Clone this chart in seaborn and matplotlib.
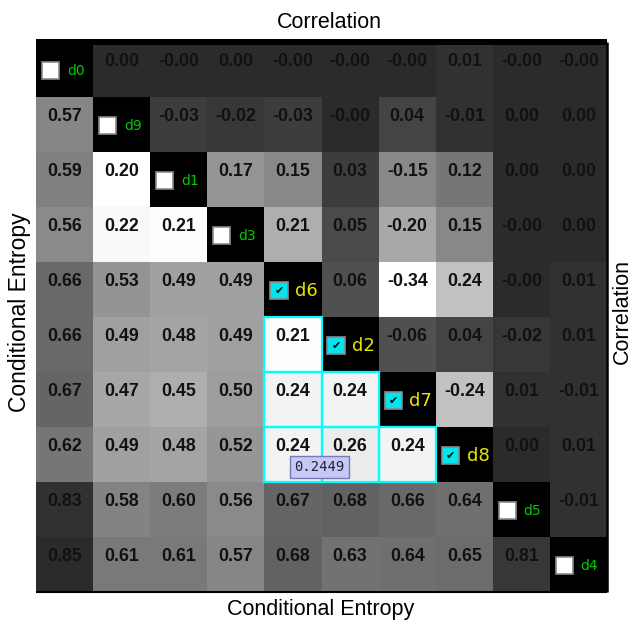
import numpy as np
import pandas as pd
import matplotlib
matplotlib.use("Agg")
import matplotlib.pyplot as plt
from matplotlib.colors import LinearSegmentedColormap
from matplotlib.patches import Rectangle
import seaborn as sns

# dimension order as shown on the diagonal
dims = ["d0", "d9", "d1", "d3", "d6", "d2", "d7", "d8", "d5", "d4"]
selected = ["d6", "d2", "d7", "d8"]

# upper triangle: correlation, row by row (columns to the right of the diagonal)
corr_rows = [
    [0.00, -0.00, 0.00, -0.00, -0.00, -0.00, 0.01, -0.00, -0.00],
    [-0.03, -0.02, -0.03, -0.00, 0.04, -0.01, 0.00, 0.00],
    [0.17, 0.15, 0.03, -0.15, 0.12, 0.00, 0.00],
    [0.21, 0.05, -0.20, 0.15, -0.00, 0.00],
    [0.06, -0.34, 0.24, -0.00, 0.01],
    [-0.06, 0.04, -0.02, 0.01],
    [-0.24, 0.01, -0.01],
    [0.00, 0.01],
    [-0.01],
]

# lower triangle: conditional entropy, row by row (columns left of the diagonal)
entropy_rows = [
    [0.57],
    [0.59, 0.20],
    [0.56, 0.22, 0.21],
    [0.66, 0.53, 0.49, 0.49],
    [0.66, 0.49, 0.48, 0.49, 0.21],
    [0.67, 0.47, 0.45, 0.50, 0.24, 0.24],
    [0.62, 0.49, 0.48, 0.52, 0.24, 0.26, 0.24],
    [0.83, 0.58, 0.60, 0.56, 0.67, 0.68, 0.66, 0.64],
    [0.85, 0.61, 0.61, 0.57, 0.68, 0.63, 0.64, 0.65, 0.81],
]

hover_value = 0.2449
hover_cell = ("d8", "d6")

n = len(dims)
corr = np.full((n, n), np.nan)
ent = np.full((n, n), np.nan)
for i, row in enumerate(corr_rows):
    corr[i, i + 1:] = row
for i, row in enumerate(entropy_rows):
    ent[i + 1, :i + 1] = row

corr_df = pd.DataFrame(corr, index=dims, columns=dims)
ent_df = pd.DataFrame(ent, index=dims, columns=dims)

corr_lbl = corr_df.map(lambda v: "" if np.isnan(v) else f"{v:.2f}")
ent_lbl = ent_df.map(lambda v: "" if np.isnan(v) else f"{v:.2f}")

corr_cmap = LinearSegmentedColormap.from_list("corr", ["#2b2b2b", "#ffffff"])
ent_cmap = LinearSegmentedColormap.from_list("ent", ["#ffffff", "#2b2b2b"])

fig = plt.figure(figsize=(6.32, 6.20), dpi=100)
ax = fig.add_axes([36 / 632, 1 - 591.7 / 620, 571 / 632, 550 / 620])
ax.set_facecolor("black")

annot_kws = {"fontsize": 12.8, "fontweight": "bold", "color": "#111111",
             "family": "Liberation Sans"}
sns.heatmap(corr_df.abs(), mask=corr_df.isna(), cmap=corr_cmap, vmin=0, vmax=0.34,
            annot=corr_lbl.values, fmt="", annot_kws=annot_kws, cbar=False,
            xticklabels=False, yticklabels=False, ax=ax)
sns.heatmap(ent_df, mask=ent_df.isna(), cmap=ent_cmap, vmin=0.20, vmax=0.85,
            annot=ent_lbl.values, fmt="", annot_kws=annot_kws, cbar=False,
            xticklabels=False, yticklabels=False, ax=ax)

# values sit in the upper part of each cell
for t in ax.texts:
    x, y = t.get_position()
    t.set_position((x, y - 0.14))

# highlight pairs of selected dimensions
sel_idx = [dims.index(d) for d in selected]
for i in sel_idx:
    for j in sel_idx:
        if j < i:
            ax.add_patch(Rectangle((j, i), 1, 1, fill=False, ec="#00ffff", lw=1.6, zorder=4))

# diagonal: checkbox + name
for k, d in enumerate(dims):
    checked = d in selected
    ax.add_patch(Rectangle((k + 0.105, k + 0.365), 0.30, 0.31,
                           fc="#00e5ee" if checked else "white",
                           ec="#8a8a8a", lw=1.2, zorder=5))
    if checked:
        ax.text(k + 0.255, k + 0.53, "\u2714", ha="center", va="center",
                fontsize=8, color="black", family="DejaVu Sans", zorder=6)
        ax.text(k + 0.54, k + 0.53, d, ha="left", va="center", fontsize=13,
                color="#e6e600", family="DejaVu Sans", zorder=6)
    else:
        ax.text(k + 0.54, k + 0.53, d, ha="left", va="center", fontsize=10,
                color="#00cc00", family="DejaVu Sans", zorder=6)

# tooltip
hi, hj = dims.index(hover_cell[0]), dims.index(hover_cell[1])
ax.text(hj + 0.96, hi + 0.73, f"{hover_value:.4f}", ha="center", va="center",
        fontsize=10, family="DejaVu Sans Mono", color="#202040", zorder=7,
        bbox=dict(boxstyle="square,pad=0.3", fc="#c8c8f4", ec="#7878b8", lw=1))

for side in ["top", "right", "bottom", "left"]:
    ax.spines[side].set_visible(True)
    ax.spines[side].set_color("black")
    ax.spines[side].set_capstyle("butt")
ax.spines["top"].set_linewidth(4.3)
ax.spines["right"].set_linewidth(1.8)
ax.spines["bottom"].set_linewidth(1.5)
ax.spines["left"].set_visible(False)

lab = dict(family="Liberation Sans", color="black")
fig.text(329.5 / 632, 1 - 28 / 620, "Correlation", ha="center", va="baseline", fontsize=15.5, **lab)
fig.text(321 / 632, 1 - 615 / 620, "Conditional Entropy", ha="center", va="baseline", fontsize=15.5, **lab)
fig.text(8 / 632, 1 - 312 / 620, "Conditional Entropy", ha="left", va="center", rotation=90, fontsize=16.5, **lab)
fig.text(612 / 632, 1 - 312 / 620, "Correlation", ha="left", va="center", rotation=90, fontsize=15.5, **lab)

fig.savefig("out.png", dpi=100)
